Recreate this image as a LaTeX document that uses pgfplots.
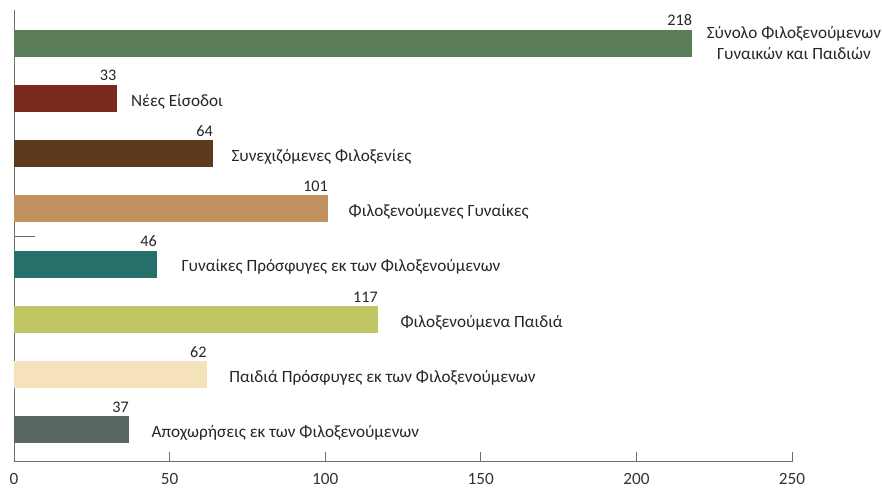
\documentclass[border=0pt]{standalone}
\usepackage{pgfplots}
\pgfplotsset{compat=1.18}
\usepackage{fontspec}
\setmainfont{Carlito}
\definecolor{cTot}{RGB}{90,124,86}
\definecolor{cNew}{RGB}{122,42,26}
\definecolor{cCont}{RGB}{94,58,28}
\definecolor{cWom}{RGB}{192,146,96}
\definecolor{cWref}{RGB}{38,112,108}
\definecolor{cChi}{RGB}{192,198,100}
\definecolor{cCref}{RGB}{246,226,186}
\definecolor{cOut}{RGB}{88,104,96}
\definecolor{axc}{RGB}{110,110,110}
\newcommand{\lf}{\fontsize{8.6}{10.2}\selectfont}
\newcommand{\vf}{\fontsize{8.1}{9.6}\selectfont}
\tikzset{cat/.style={anchor=west, font=\lf, text=black!85, inner sep=0pt, yshift=-1.5pt}}
\begin{document}
\begin{tikzpicture}
\path[use as bounding box] (-7pt,-14pt) rectangle (434pt,231pt);
\begin{axis}[
  at={(0,0)}, anchor=south west,
  scale only axis, width=389pt, height=226pt,
  xmin=0, xmax=250, ymin=-0.58, ymax=7.6,
  axis x line=bottom, axis y line=left,
  axis line style={-, draw=axc, line width=0.5pt},
  xtick={0,50,100,150,200,250}, ytick=\empty,
  tick align=inside, major tick length=5pt,
  x tick style={draw=axc, line width=0.5pt},
  xticklabel style={font=\lf, text=black!80, yshift=-2pt},
  /pgf/number format/assume math mode=true,
  xbar, bar width=0.49, bar shift=0,
  nodes near coords,
  every node near coord/.style={anchor=south east, font=\vf, text=black!85, inner sep=1pt, yshift=7.5pt, xshift=1pt},
  clip=false,
]
\addplot[fill=cTot, draw=none] coordinates {(218,7)};
\addplot[fill=cNew, draw=none] coordinates {(33,6)};
\addplot[fill=cCont, draw=none] coordinates {(64,5)};
\addplot[fill=cWom, draw=none] coordinates {(101,4)};
\addplot[fill=cWref, draw=none] coordinates {(46,3)};
\addplot[fill=cChi, draw=none] coordinates {(117,2)};
\addplot[fill=cCref, draw=none] coordinates {(62,1)};
\addplot[fill=cOut, draw=none] coordinates {(37,0)};
\draw[axc, line width=0.5pt] (axis cs:0,3.5) -- (axis cs:6.8,3.5);
\node[cat, align=center, xshift=7pt, yshift=1.5pt] at (axis cs:218,7) {Σύνολο Φιλοξενούμενων\\Γυναικών και Παιδιών};
\node[cat, xshift=7pt] at (axis cs:33,6) {Νέες Είσοδοι};
\node[cat, xshift=9pt] at (axis cs:64,5) {Συνεχιζόμενες Φιλοξενίες};
\node[cat, xshift=10pt] at (axis cs:101,4) {Φιλοξενούμενες Γυναίκες};
\node[cat, xshift=12pt] at (axis cs:46,3) {Γυναίκες Πρόσφυγες εκ των Φιλοξενούμενων};
\node[cat, xshift=11pt] at (axis cs:117,2) {Φιλοξενούμενα Παιδιά};
\node[cat, xshift=11pt] at (axis cs:62,1) {Παιδιά Πρόσφυγες εκ των Φιλοξενούμενων};
\node[cat, xshift=11pt] at (axis cs:37,0) {Αποχωρήσεις εκ των Φιλοξενούμενων};
\end{axis}
\end{tikzpicture}
\end{document}
